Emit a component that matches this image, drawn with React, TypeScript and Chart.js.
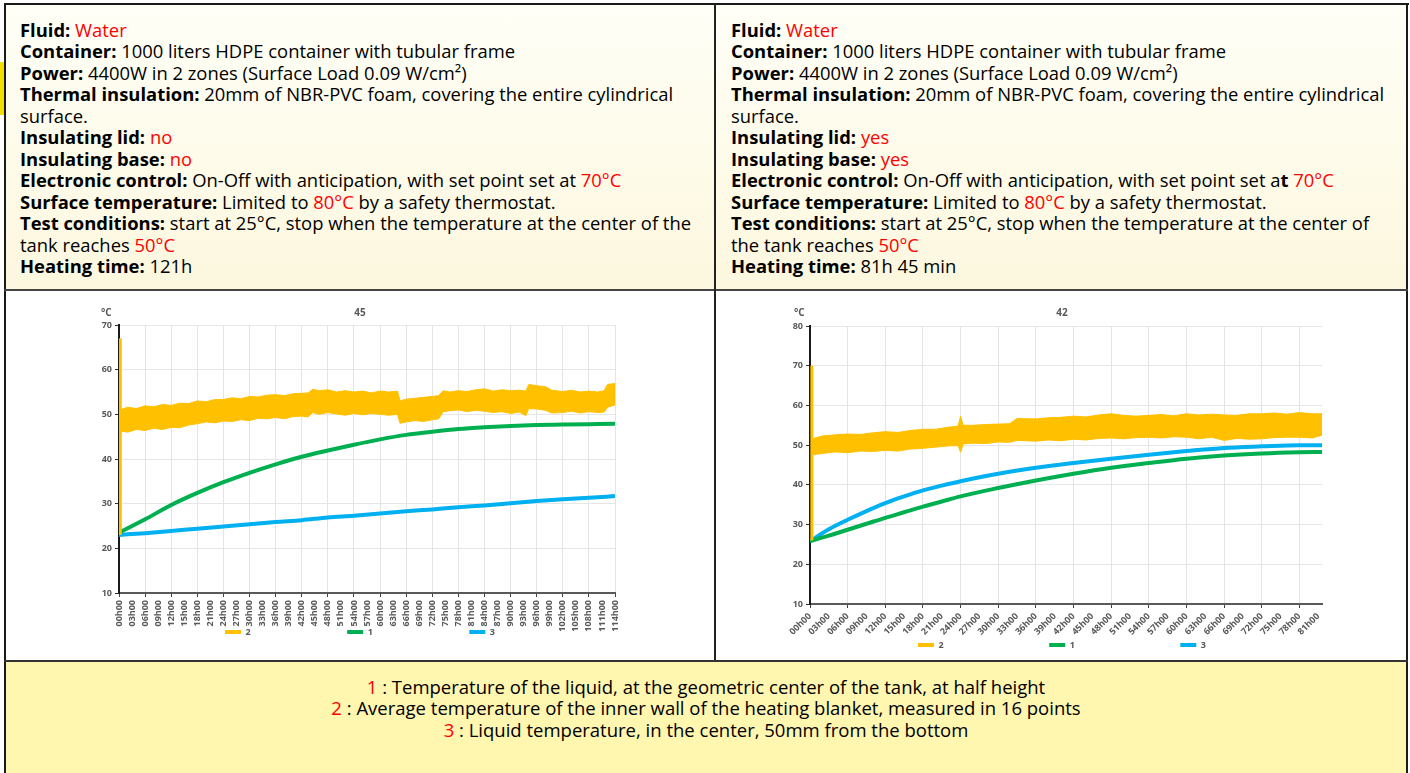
import React, { useEffect, useRef } from 'react';
import { Chart, registerables } from 'chart.js';

Chart.register(...registerables);
Chart.defaults.font.family = '"Open Sans", sans-serif';

// ---------- Left chart data (no insulating lid / base) ----------
const curveHoursL = [0, 6, 12, 18, 24, 30, 36, 42, 48, 54, 60, 66, 72, 78, 84, 90, 96, 102, 108, 114];
const centerTempL = [23.5, 26.5, 29.7, 32.4, 34.8, 36.9, 38.8, 40.5, 41.9, 43.2, 44.4, 45.4, 46.1, 46.7, 47.1, 47.4, 47.6, 47.7, 47.8, 47.9];
const bottomTempL = [23.0, 23.4, 23.9, 24.4, 24.9, 25.4, 25.9, 26.3, 26.9, 27.3, 27.8, 28.3, 28.7, 29.2, 29.6, 30.1, 30.6, 31.0, 31.3, 31.7];
const wallHoursL = [0.3, 2, 4, 6, 8, 10, 12, 14, 16, 18, 20, 22, 24, 26, 28, 30, 32, 34, 36, 38, 40, 42, 43.5, 44.5, 46, 48, 50, 52, 54, 56, 58, 60, 62, 64, 64.6, 66, 68, 70, 72, 73.5, 74.5, 76, 78, 80, 82, 84, 86, 88, 90, 92, 93.5, 94.2, 96, 98, 99.5, 102, 104, 106, 108, 110, 111.5, 112.3, 114];
const wallHighL = [51.0, 51.6, 51.3, 51.9, 51.7, 52.2, 52.0, 52.5, 52.4, 53.0, 52.8, 53.3, 53.3, 53.7, 53.5, 54.0, 53.9, 54.3, 54.4, 54.2, 54.6, 54.7, 54.8, 55.6, 55.3, 55.5, 55.0, 55.3, 55.0, 55.2, 54.8, 55.2, 55.0, 55.2, 53.0, 53.4, 53.6, 53.8, 54.0, 54.2, 55.3, 55.0, 55.3, 55.1, 55.5, 55.7, 55.2, 55.5, 55.3, 55.4, 55.2, 56.7, 56.4, 56.2, 55.4, 55.1, 55.4, 55.0, 55.2, 55.0, 55.3, 56.7, 56.9];
const wallLowL = [46.3, 46.0, 46.6, 46.4, 46.9, 46.6, 47.1, 47.0, 47.6, 47.9, 48.3, 48.1, 48.5, 48.4, 48.8, 48.6, 49.1, 49.0, 49.3, 49.0, 49.5, 49.6, 49.4, 50.4, 50.0, 50.4, 50.1, 49.8, 50.2, 49.9, 50.2, 50.0, 49.8, 50.0, 48.0, 48.3, 48.6, 48.4, 48.8, 49.0, 50.6, 50.8, 51.0, 50.6, 50.9, 50.7, 50.4, 50.6, 50.2, 50.5, 49.7, 51.3, 51.2, 50.9, 50.3, 50.4, 50.7, 50.3, 50.6, 50.4, 50.5, 51.6, 52.1];
const wallSpikeL = [23, 67];

// ---------- Right chart data (insulating lid / base) ----------
const curveHoursR = [0, 3, 6, 9, 12, 15, 18, 21, 24, 30, 36, 42, 48, 54, 60, 66, 72, 78, 81.6];
const centerTempR = [25.8, 27.2, 28.7, 30.2, 31.7, 33.1, 34.5, 35.8, 37.1, 39.2, 41.1, 42.8, 44.3, 45.5, 46.6, 47.4, 47.9, 48.2, 48.3];
const bottomTempR = [25.8, 28.8, 31.2, 33.4, 35.4, 37.1, 38.6, 39.8, 40.9, 42.8, 44.3, 45.5, 46.6, 47.6, 48.5, 49.3, 49.7, 50.0, 50.0];
const wallHoursR = [0.3, 2, 4, 6, 8, 10, 12, 14, 16, 18, 20, 22, 23.6, 24, 24.4, 26, 28, 30, 31.8, 33, 36, 38, 40, 42, 44, 46, 48, 50, 52, 54, 56, 58, 60, 62, 64, 66, 68, 70, 72, 74, 76, 78, 80, 81.6];
const wallHighR = [51.6, 52.3, 52.6, 52.8, 52.7, 53.1, 53.4, 53.2, 53.7, 54.0, 54.0, 54.5, 54.8, 57.3, 55.0, 55.0, 55.2, 55.3, 55.4, 56.7, 56.6, 56.9, 57.0, 57.3, 57.1, 57.6, 57.9, 57.5, 57.3, 57.5, 57.7, 57.4, 57.9, 57.6, 57.8, 57.6, 57.5, 57.9, 57.9, 58.1, 57.8, 58.2, 57.9, 57.9];
const wallLowR = [47.6, 47.9, 48.3, 48.1, 48.5, 48.4, 48.7, 48.5, 49.0, 49.2, 49.5, 49.8, 49.9, 48.2, 50.3, 50.5, 50.4, 50.8, 50.7, 51.2, 51.0, 51.3, 51.1, 51.5, 51.3, 51.7, 51.8, 51.6, 51.9, 52.0, 51.8, 52.1, 52.0, 51.6, 52.0, 51.2, 51.7, 51.5, 51.6, 51.9, 52.0, 52.0, 51.8, 52.5];
const wallSpikeR = [26, 70];

// ---------- Labels ----------
const seriesNames = { wall: '2', center: '1', bottom: '3' };
const chartTitles = { left: '45', right: '42' };
const unitText = '°C';

const YELLOW = '#ffc000';
const GREEN = '#00b050';
const BLUE = '#00b0f0';
const GREY = '#595959';
const RED = '#ff0000';

const pts = (xs: number[], ys: number[]) => xs.map((x, i) => ({ x, y: ys[i] }));
const fmtHour = (v: any) => String(Math.round(Number(v))).padStart(2, '0') + 'h00';

const unitPlugin = {
  id: 'unitLabel',
  afterDraw(chart: any, _args: any, opts: any) {
    const { ctx, chartArea } = chart;
    ctx.save();
    ctx.font = 'bold 10px "Open Sans", sans-serif';
    ctx.fillStyle = GREY;
    ctx.textAlign = 'left';
    ctx.textBaseline = 'middle';
    ctx.fillText(unitText, chartArea.left + opts.dx, chartArea.top - opts.dy);
    ctx.restore();
  },
};

// let tick labels use the free room of the canvas instead of being clipped to the axis boxes
const labelRoomPlugin = {
  id: 'labelRoom',
  afterLayout(chart: any) {
    chart.scales.y.left = 0;
    chart.scales.x.bottom = chart.height;
  },
};

type Spec = {
  title: string;
  xMax: number;
  yMin: number;
  yMax: number;
  rot: number;
  yWidth: number;
  xHeight: number;
  pad: number;
  padBottom: number;
  titleBottom: number;
  gap: number;
  unitDx: number;
  unitDy: number;
  curveHours: number[];
  center: number[];
  bottom: number[];
  wallHours: number[];
  wallHigh: number[];
  wallLow: number[];
  spike: number[];
};

function buildConfig(s: Spec): any {
  const tickFont = { size: 9, weight: 'bold' as const };
  const gapStr = '\u2002'.repeat(s.gap);
  return {
    type: 'line',
    data: {
      datasets: [
        {
          label: seriesNames.wall,
          data: pts(s.wallHours, s.wallHigh),
          borderColor: YELLOW,
          backgroundColor: YELLOW,
          borderWidth: 1,
          fill: '+1',
          tension: 0,
        },
        {
          label: 'wallLow',
          data: pts(s.wallHours, s.wallLow),
          borderColor: YELLOW,
          backgroundColor: YELLOW,
          borderWidth: 1,
          fill: false,
          tension: 0,
        },
        {
          label: 'wallSpike',
          data: pts([0.3, 0.3], s.spike),
          borderColor: YELLOW,
          backgroundColor: YELLOW,
          borderWidth: 3,
          fill: false,
        },
        {
          label: seriesNames.center,
          data: pts(s.curveHours, s.center),
          borderColor: GREEN,
          backgroundColor: GREEN,
          borderWidth: 4,
          cubicInterpolationMode: 'monotone',
          fill: false,
        },
        {
          label: seriesNames.bottom,
          data: pts(s.curveHours, s.bottom),
          borderColor: BLUE,
          backgroundColor: BLUE,
          borderWidth: 4,
          cubicInterpolationMode: 'monotone',
          fill: false,
        },
      ],
    },
    options: {
      animation: false,
      responsive: false,
      events: [],
      layout: { padding: { left: s.pad, right: s.pad, top: 0, bottom: s.padBottom } },
      elements: { point: { radius: 0 } },
      plugins: {
        title: {
          display: true,
          text: s.title,
          color: GREY,
          font: { size: 10, weight: 'bold' },
          padding: { top: 9, bottom: s.titleBottom },
        },
        legend: {
          position: 'bottom',
          labels: {
            boxWidth: 16,
            boxHeight: 4,
            padding: 2,
            color: GREY,
            font: { size: 9, weight: 'bold' },
            generateLabels: (chart: any) => {
              const base = Chart.defaults.plugins.legend.labels.generateLabels(chart);
              const keep = base.filter((it: any) =>
                [seriesNames.wall, seriesNames.center, seriesNames.bottom].includes(it.text)
              );
              return keep.map((it: any, i: number) => ({
                ...it,
                text: i < keep.length - 1 ? it.text + gapStr : it.text,
                fillStyle: it.strokeStyle,
                lineWidth: 0,
              }));
            },
          },
        },
        tooltip: { enabled: false },
        unitLabel: { dx: s.unitDx, dy: s.unitDy },
      },
      scales: {
        x: {
          type: 'linear',
          min: 0,
          max: s.xMax,
          afterFit: (sc: any) => {
            sc.height = s.xHeight;
            sc.paddingLeft = 0;
            sc.paddingRight = 0;
          },
          ticks: {
            stepSize: 3,
            autoSkip: false,
            includeBounds: false,
            maxRotation: s.rot,
            minRotation: s.rot,
            padding: 3,
            color: GREY,
            font: tickFont,
            callback: fmtHour,
          },
          grid: {
            color: (c: any) => (c.tick && Math.round(c.tick.value) % 6 === 0 ? '#e4e4e4' : 'rgba(0,0,0,0)'),
            tickColor: (c: any) => (c.tick && Math.round(c.tick.value) % 6 === 0 ? '#404040' : 'rgba(0,0,0,0)'),
            tickLength: 4,
          },
          border: { color: GREY, width: 2 },
        },
        y: {
          min: s.yMin,
          max: s.yMax,
          afterFit: (sc: any) => {
            sc.width = s.yWidth;
          },
          ticks: { stepSize: 10, padding: 3, color: GREY, font: tickFont },
          grid: { color: '#e6e6e6', tickColor: '#333333', tickLength: 4 },
          border: { color: '#1a1a1a', width: 2 },
        },
      },
    },
    plugins: [unitPlugin, labelRoomPlugin],
  };
}

function TempChart({ spec, left, top, width, height }: { spec: Spec; left: number; top: number; width: number; height: number }) {
  const ref = useRef<HTMLCanvasElement | null>(null);
  useEffect(() => {
    if (!ref.current) return;
    const chart = new Chart(ref.current, buildConfig(spec));
    return () => chart.destroy();
  }, []);
  return (
    <canvas
      ref={ref}
      width={width}
      height={height}
      style={{ position: 'absolute', left, top, width, height }}
    />
  );
}

const leftSpec: Spec = {
  title: chartTitles.left,
  xMax: 114,
  yMin: 10,
  yMax: 70,
  rot: 90,
  yWidth: 14,
  xHeight: 32.5,
  pad: 20,
  padBottom: 1.5,
  titleBottom: 6,
  gap: 21,
  unitDx: -18,
  unitDy: 12,
  curveHours: curveHoursL,
  center: centerTempL,
  bottom: bottomTempL,
  wallHours: wallHoursL,
  wallHigh: wallHighL,
  wallLow: wallLowL,
  spike: wallSpikeL,
};

const rightSpec: Spec = {
  title: chartTitles.right,
  xMax: 81.6,
  yMin: 10,
  yMax: 80,
  rot: 45,
  yWidth: 8,
  xHeight: 34.5,
  pad: 20,
  padBottom: 0.5,
  titleBottom: 7,
  gap: 23,
  unitDx: -16,
  unitDy: 13,
  curveHours: curveHoursR,
  center: centerTempR,
  bottom: bottomTempR,
  wallHours: wallHoursR,
  wallHigh: wallHighR,
  wallLow: wallLowR,
  spike: wallSpikeR,
};

const TEXT_FONT = '"Open Sans", sans-serif';
const R = ({ children }: { children: React.ReactNode }) => <span style={{ color: RED }}>{children}</span>;
const L = ({ children }: { children: React.ReactNode }) => <div style={{ whiteSpace: 'nowrap' }}>{children}</div>;

const cellText: React.CSSProperties = {
  position: 'absolute',
  fontFamily: TEXT_FONT,
  fontSize: 18.4,
  lineHeight: '21.45px',
  color: '#000',
};

export default function App() {
  const topBg = 'linear-gradient(#fffff7, #fcf7de)';
  return (
    <div style={{ position: 'fixed', left: 0, top: 0, width: 1410, height: 773, background: '#fff', overflow: 'hidden' }}>
      {/* small yellow marker at the left edge */}
      <div style={{ position: 'absolute', left: 0, top: 62, width: 4, height: 53, background: '#f2df00' }} />
      {/* cell backgrounds */}
      <div style={{ position: 'absolute', left: 5, top: 5, width: 710, height: 285, background: topBg }} />
      <div style={{ position: 'absolute', left: 716, top: 5, width: 691, height: 285, background: topBg }} />
      <div style={{ position: 'absolute', left: 5, top: 662, width: 1402, height: 111, background: '#fff6b0' }} />
      {/* borders */}
      <div style={{ position: 'absolute', left: 4, top: 3, width: 1405, height: 2, background: '#1a1a1a' }} />
      <div style={{ position: 'absolute', left: 4, top: 3, width: 2, height: 770, background: '#1a1a1a' }} />
      <div style={{ position: 'absolute', left: 1406, top: 3, width: 2, height: 770, background: '#1a1a1a' }} />
      <div style={{ position: 'absolute', left: 4, top: 289, width: 1404, height: 2, background: '#444' }} />
      <div style={{ position: 'absolute', left: 714, top: 3, width: 2, height: 659, background: '#222' }} />
      <div style={{ position: 'absolute', left: 4, top: 660, width: 1404, height: 2, background: '#333' }} />

      {/* left description */}
      <div style={{ ...cellText, left: 20, top: 19 }}>
        <L><b>Fluid:</b> <R>Water</R></L>
        <L><b>Container:</b> 1000 liters HDPE container with tubular frame</L>
        <L><b>Power:</b> 4400W in 2 zones (Surface Load 0.09 W/cm²)</L>
        <L><b>Thermal insulation:</b> 20mm of NBR-PVC foam, covering the entire cylindrical</L>
        <L>surface.</L>
        <L><b>Insulating lid:</b> <R>no</R></L>
        <L><b>Insulating base:</b> <R>no</R></L>
        <L><b>Electronic control:</b> On-Off with anticipation, with set point set at <R>70°C</R></L>
        <L><b>Surface temperature:</b> Limited to <R>80°C</R> by a safety thermostat.</L>
        <L><b>Test conditions:</b> start at 25°C, stop when the temperature at the center of the</L>
        <L>tank reaches <R>50°C</R></L>
        <L><b>Heating time:</b> 121h</L>
      </div>

      {/* right description */}
      <div style={{ ...cellText, left: 731, top: 19 }}>
        <L><b>Fluid:</b> <R>Water</R></L>
        <L><b>Container:</b> 1000 liters HDPE container with tubular frame</L>
        <L><b>Power:</b> 4400W in 2 zones (Surface Load 0.09 W/cm²)</L>
        <L><b>Thermal insulation:</b> 20mm of NBR-PVC foam, covering the entire cylindrical</L>
        <L>surface.</L>
        <L><b>Insulating lid:</b> <R>yes</R></L>
        <L><b>Insulating base:</b> <R>yes</R></L>
        <L><b>Electronic control:</b> On-Off with anticipation, with set point set a<b>t</b> <R>70°C</R></L>
        <L><b>Surface temperature:</b> Limited to <R>80°C</R> by a safety thermostat.</L>
        <L><b>Test conditions:</b> start at 25°C, stop when the temperature at the center of</L>
        <L>the tank reaches <R>50°C</R></L>
        <L><b>Heating time:</b> 81h 45 min</L>
      </div>

      <TempChart spec={leftSpec} left={85} top={298} width={550} height={350} />
      <TempChart spec={rightSpec} left={782} top={298} width={560} height={362} />

      {/* bottom legend */}
      <div style={{ ...cellText, fontSize: 18.5, left: 5, width: 1402, top: 676, textAlign: 'center' }}>
        <L><R>1</R> : Temperature of the liquid, at the geometric center of the tank, at half height</L>
        <L><R>2</R> : Average temperature of the inner wall of the heating blanket, measured in 16 points</L>
        <L><R>3</R> : Liquid temperature, in the center, 50mm from the bottom</L>
      </div>
    </div>
  );
}
